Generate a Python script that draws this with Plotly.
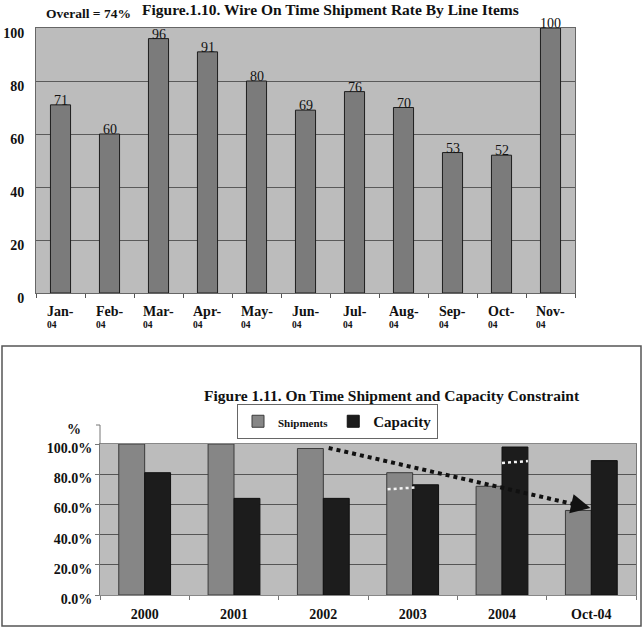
import plotly.graph_objects as go

# ---------------- data ----------------
months = ["Jan-", "Feb-", "Mar-", "Apr-", "May-", "Jun-", "Jul-", "Aug-", "Sep-", "Oct-", "Nov-"]
month_year = ["04"] * 11
categories_top = [m + y for m, y in zip(months, month_year)]
ontime_rate = [71, 60, 96, 91, 80, 69, 76, 70, 53, 52, 100]
overall_text = "Overall = 74%"

years = ["2000", "2001", "2002", "2003", "2004", "Oct-04"]
shipments = [1.00, 1.00, 0.97, 0.81, 0.72, 0.56]
capacity = [0.81, 0.64, 0.64, 0.73, 0.98, 0.89]

# trend arrow (category index, value)
trend_start = (2.06, 0.974)
trend_end = (4.99, 0.576)
# white dotted marks (category index from, to ; value from, to)
white_marks = [((2.72, 3.02), (0.70, 0.712)), ((4.0, 4.29), (0.874, 0.887))]

W, H = 643, 633
SERIF = "Liberation Serif, Times New Roman, serif"

def px_x(v):
    return v / W

def px_y(v):
    return 1 - v / H

fig = go.Figure()

# ---------------- top chart ----------------
fig.add_trace(go.Bar(
    x=categories_top, y=ontime_rate, width=0.41,
    marker=dict(color="#7b7b7b", line=dict(color="#1e1e1e", width=1)),
    xaxis="x", yaxis="y", showlegend=False, hoverinfo="x+y",
))

for c, v in zip(categories_top, ontime_rate):
    fig.add_annotation(x=c, y=v, xref="x", yref="y", text=str(v), showarrow=False,
                       xanchor="center", yanchor="bottom", yshift=-5,
                       font=dict(family=SERIF, size=14, color="#111"))

for c, m, yr in zip(categories_top, months, month_year):
    fig.add_annotation(x=c, y=0, xref="x", yref="y",
                       text="<b><span style='font-size:14px'>" + m + "</span></b><br><b>" + yr + "</b>",
                       showarrow=False, align="left", xanchor="center", yanchor="top", yshift=-9,
                       font=dict(family=SERIF, size=9.5, color="#111"))

fig.add_annotation(x=px_x(88), y=px_y(14), xref="paper", yref="paper", text="<b>" + overall_text + "</b>",
                   showarrow=False, xanchor="center", yanchor="middle",
                   font=dict(family=SERIF, size=13.5, color="#111"))
fig.add_annotation(x=px_x(330), y=px_y(9), xref="paper", yref="paper",
                   text="<b>Figure.1.10. Wire On Time Shipment Rate By Line Items</b>",
                   showarrow=False, xanchor="center", yanchor="middle",
                   font=dict(family=SERIF, size=15.5, color="#111"))

# ---------------- bottom chart ----------------
fig.add_trace(go.Bar(
    x=years, y=shipments, width=0.29, offset=-0.29, name="<b><span style='font-size:11px'>Shipments</span></b>",
    marker=dict(color="#868686", line=dict(color="#3a3a3a", width=1)),
    xaxis="x2", yaxis="y2", hovertemplate="%{x}: %{y:.1%}<extra>Shipments</extra>",
))
fig.add_trace(go.Bar(
    x=years, y=capacity, width=0.29, offset=0, name="<b>Capacity</b>",
    marker=dict(color="#1c1c1c", line=dict(color="#111", width=1)),
    xaxis="x2", yaxis="y2", hovertemplate="%{x}: %{y:.1%}<extra>Capacity</extra>",
))

slope = (trend_start[1] - trend_end[1]) / (trend_end[0] - trend_start[0])
fig.add_shape(type="line", xref="x2", yref="y2", x0=trend_start[0], y0=trend_start[1],
              x1=trend_end[0] - 0.08, y1=trend_end[1] + 0.08 * slope,
              line=dict(color="#111", width=4, dash="dot"))
fig.add_annotation(x=trend_end[0], y=trend_end[1], xref="x2", yref="y2",
                   ax=trend_end[0] - 0.15, ay=trend_end[1] + 0.15 * slope,
                   axref="x2", ayref="y2", showarrow=True, arrowhead=2, arrowsize=1.3, arrowwidth=3,
                   arrowcolor="#111", text="")
for (xs, ys) in white_marks:
    fig.add_shape(type="line", xref="x2", yref="y2", x0=xs[0], x1=xs[1], y0=ys[0], y1=ys[1],
                  line=dict(color="#f4f4f4", width=2.5, dash="dot"))

fig.add_annotation(x=px_x(392), y=px_y(395), xref="paper", yref="paper",
                   text="<b>Figure 1.11. On Time Shipment and Capacity Constraint</b>",
                   showarrow=False, xanchor="center", yanchor="middle",
                   font=dict(family=SERIF, size=15.5, color="#111"))
fig.add_annotation(x=px_x(74), y=px_y(429), xref="paper", yref="paper", text="<b>%</b>",
                   showarrow=False, xanchor="center", yanchor="middle",
                   font=dict(family=SERIF, size=14, color="#111"))
# small axis bracket above the plot
fig.add_shape(type="path", xref="paper", yref="paper",
              path=f"M {px_x(96)} {px_y(425)} L {px_x(100)} {px_y(425)} L {px_x(100)} {px_y(444)}",
              line=dict(color="#777", width=1))
# outer box of bottom chart
fig.add_shape(type="rect", xref="paper", yref="paper", x0=px_x(2), x1=px_x(641), y0=px_y(626), y1=px_y(346),
              line=dict(color="#555", width=1.5), layer="below")

axis_font = dict(family=SERIF, size=14, color="#111")

fig.update_layout(
    width=W, height=H, margin=dict(l=0, r=0, t=0, b=0, autoexpand=False),
    paper_bgcolor="white", plot_bgcolor="#bcbcbc",
    barmode="overlay",
    xaxis=dict(domain=[px_x(36), px_x(575)], type="category", showticklabels=False,
               ticks="outside", tickson="boundaries", ticklen=4, tickcolor="#555",
               showline=True, mirror=True, linecolor="#666", linewidth=1, showgrid=False,
               anchor="y", fixedrange=True, automargin=False),
    yaxis=dict(domain=[px_y(293), px_y(28)], range=[0, 100], dtick=20, tickfont=axis_font,
               tickprefix="<b>", ticksuffix="</b>",
               showgrid=True, gridcolor="#5a5a5a", gridwidth=1, zeroline=False,
               showline=True, mirror=True, linecolor="#666", linewidth=1,
               ticks="", ticklabelstandoff=8, ticklabelshift=5,
               anchor="x", fixedrange=True, automargin=False),
    xaxis2=dict(domain=[px_x(100), px_x(636)], type="category", tickfont=axis_font,
                tickprefix="<b>", ticksuffix="</b>",
                ticks="outside", tickson="boundaries", ticklen=4, tickcolor="#777",
                showline=True, mirror=True, linecolor="#888", linewidth=1, showgrid=False,
                ticklabelstandoff=6, anchor="y2", fixedrange=True, automargin=False),
    yaxis2=dict(domain=[px_y(595), px_y(444)], range=[0, 1], dtick=0.2, tickformat=".1%",
                tickfont=axis_font, tickprefix="<b>", ticksuffix="</b>",
                showgrid=True, gridcolor="#555", gridwidth=1, zeroline=False,
                showline=True, mirror=True, linecolor="#777", linewidth=1,
                ticks="outside", ticklen=4, tickcolor="#777", ticklabelstandoff=0, ticklabelshift=4,
                anchor="x2", fixedrange=True, automargin=False),
    legend=dict(orientation="h", x=px_x(237), y=px_y(404), xanchor="left", yanchor="top",
                bgcolor="white", bordercolor="#666", borderwidth=1,
                font=dict(family=SERIF, size=15, color="#111"), itemwidth=30,
                tracegroupgap=0),
    showlegend=True,
)

fig.write_html("out.html")
